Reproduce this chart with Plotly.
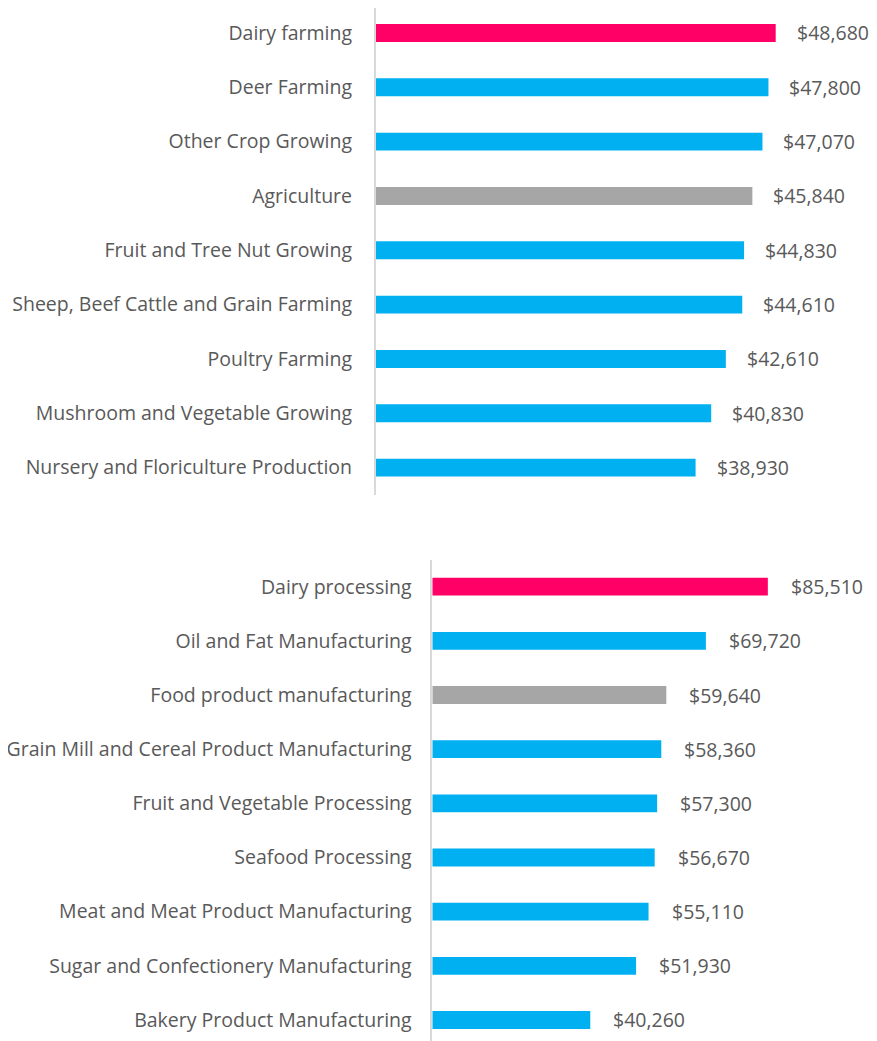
import plotly.graph_objects as go

# Top chart (farming), listed bottom-to-top
farm_categories = [
    "Nursery and Floriculture Production",
    "Mushroom and Vegetable Growing",
    "Poultry Farming",
    "Sheep, Beef Cattle and Grain Farming",
    "Fruit and Tree Nut Growing",
    "Agriculture",
    "Other Crop Growing",
    "Deer Farming",
    "Dairy farming",
]
farm_values = [38930, 40830, 42610, 44610, 44830, 45840, 47070, 47800, 48680]
farm_kind = ["sub", "sub", "sub", "sub", "sub", "total", "sub", "sub", "dairy"]

# Bottom chart (manufacturing), listed bottom-to-top
mfg_categories = [
    "Bakery Product Manufacturing",
    "Sugar and Confectionery Manufacturing",
    "Meat and Meat Product Manufacturing",
    "Seafood Processing",
    "Fruit and Vegetable Processing",
    "Grain Mill and Cereal Product Manufacturing",
    "Food product manufacturing",
    "Oil and Fat Manufacturing",
    "Dairy processing",
]
mfg_values = [40260, 51930, 55110, 56670, 57300, 58360, 59640, 69720, 85510]
mfg_kind = ["sub", "sub", "sub", "sub", "sub", "sub", "total", "sub", "dairy"]

COLORS = {"dairy": "#FF0066", "sub": "#00B0F0", "total": "#A6A6A6"}
FONT = "Open Sans"
TXT = "#595959"
FS = 19.5

# page has an 8px body margin, so the figure is 8px smaller than the window
W, H = 869, 1033

fig = go.Figure()
fig.add_trace(go.Bar(
    x=farm_values, y=farm_categories, orientation="h",
    marker=dict(color=[COLORS[k] for k in farm_kind], line=dict(width=0)),
    width=0.33, xaxis="x", yaxis="y", showlegend=False, hoverinfo="skip",
))
fig.add_trace(go.Bar(
    x=mfg_values, y=mfg_categories, orientation="h",
    marker=dict(color=[COLORS[k] for k in mfg_kind], line=dict(width=0)),
    width=0.33, xaxis="x2", yaxis="y2", showlegend=False, hoverinfo="skip",
))

annotations = []
for cat, v in zip(farm_categories, farm_values):
    annotations.append(dict(x=v, y=cat, xref="x", yref="y", text=f"${v:,}",
                            showarrow=False, xanchor="left", xshift=19,
                            font=dict(family=FONT, size=FS, color=TXT)))
for cat, v in zip(mfg_categories, mfg_values):
    annotations.append(dict(x=v, y=cat, xref="x2", yref="y2", text=f"${v:,}",
                            showarrow=False, xanchor="left", xshift=21,
                            font=dict(family=FONT, size=FS, color=TXT)))

top_axis_px = 367.7
bot_axis_px = 424.3

xcommon = dict(showgrid=False, zeroline=False, showticklabels=False, showline=False, fixedrange=True)
ycommon = dict(showgrid=False, zeroline=False, showline=True, linecolor="#D9D9D9", linewidth=1.5,
               ticks="", automargin=False, type="category",
               tickfont=dict(family=FONT, size=FS, color=TXT))

fig.update_layout(
    width=W, height=H,
    margin=dict(l=0, r=0, t=0, b=0),
    paper_bgcolor="white", plot_bgcolor="white",
    xaxis=dict(domain=[top_axis_px / W, 1], range=[0, 61008], anchor="y", **xcommon),
    yaxis=dict(domain=[1 - 486.8 / H, 1], range=[-0.5, 8.46], anchor="x",
               categoryorder="array", categoryarray=farm_categories,
               ticklabelstandoff=18, **ycommon),
    xaxis2=dict(domain=[bot_axis_px / W, 1], range=[0, 113330], anchor="y2", **xcommon),
    yaxis2=dict(domain=[0, 1 - 551.6 / H], range=[-0.388, 8.5], anchor="x2",
                categoryorder="array", categoryarray=mfg_categories,
                ticklabelstandoff=15, **ycommon),
    annotations=annotations,
)

fig.write_html("out.html")
